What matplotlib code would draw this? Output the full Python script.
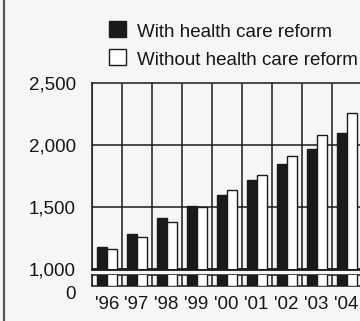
import matplotlib
matplotlib.use("Agg")
import matplotlib.pyplot as plt
from matplotlib.patches import Rectangle
from matplotlib.lines import Line2D
import matplotlib.transforms as mtransforms
import numpy as np

years = ["'96", "'97", "'98", "'99", "'00", "'01", "'02", "'03", "'04"]
with_reform = [1170, 1280, 1410, 1505, 1595, 1715, 1845, 1965, 2095]
without_reform = [1160, 1255, 1375, 1500, 1630, 1757, 1910, 2075, 2255]
ytick_vals = [1000, 1500, 2000, 2500]
ytick_labels = ["1,000", "1,500", "2,000", "2,500"]
legend_labels = ["With health care reform", "Without health care reform"]

W, H = 360, 321
bg = "#f6f6f6"
ink = "#1a1a1a"
txt = "#161616"
fig = plt.figure(figsize=(W / 100, H / 100), dpi=100, facecolor=bg)

def fx(px):
    return px / W

def fy(py):
    return 1 - py / H

left_px, right_px = 91.7, 361.5
top_px, base_px = 82.7, 268.5
strip_top, strip_bot = 275.0, 286.0

ax = fig.add_axes([fx(left_px), fy(base_px), fx(right_px - left_px), (base_px - top_px) / H])
ax2 = fig.add_axes([fx(left_px), fy(strip_bot), fx(right_px - left_px), (strip_bot - strip_top) / H])

x = np.arange(len(years))
bw = 0.33
for a in (ax, ax2):
    a.set_facecolor(bg)
    a.bar(x + 0.35, with_reform, width=bw, color=ink, edgecolor=ink, linewidth=1.0, zorder=3, bottom=0)
    a.bar(x + 0.68, without_reform, width=bw, color="white", edgecolor=ink, linewidth=1.0, zorder=3, bottom=0)
    a.set_xlim(0, len(years))
    for i in range(len(years) + 1):
        a.axvline(i, color=ink, linewidth=1.1, zorder=2)
    for s in a.spines.values():
        s.set_color(ink)
        s.set_linewidth(1.1)

ax.set_ylim(1000, 2500)
ax.spines["bottom"].set_linewidth(2.0)
for v in ytick_vals[1:-1]:
    ax.axhline(v, color=ink, linewidth=1.1, zorder=2)
ax.set_yticks(ytick_vals)
ax.set_yticklabels(ytick_labels, fontsize=13.5, family=["Liberation Sans", "DejaVu Sans"], color=txt)
ax.tick_params(axis="y", length=0, pad=11.5)
ax.set_xticks([])

ax2.set_ylim(0, 100)
ax2.set_yticks([0])
ax2.set_yticklabels(["0"], fontsize=13.5, family=["Liberation Sans", "DejaVu Sans"], color=txt)
ax2.tick_params(axis="y", length=0, pad=11.5)
off = mtransforms.ScaledTranslation(0, -5 / 72, fig.dpi_scale_trans)
for lab in ax2.get_yticklabels():
    lab.set_transform(lab.get_transform() + off)
ax2.set_xticks(x + 0.5)
ax2.set_xticklabels(years, fontsize=13.5, family=["Liberation Sans Narrow", "Liberation Sans"], color=txt)
ax2.tick_params(axis="x", length=0, pad=7)

# legend
fig.patches.append(Rectangle((fx(109), fy(37)), fx(17), 16 / H, transform=fig.transFigure,
                             facecolor=ink, edgecolor=ink, linewidth=1.0))
fig.patches.append(Rectangle((fx(109), fy(65)), fx(17), 16 / H, transform=fig.transFigure,
                             facecolor="white", edgecolor=ink, linewidth=1.0))
fig.text(fx(137), fy(37), legend_labels[0], fontsize=13.5, family=["Liberation Sans", "DejaVu Sans"],
         va="baseline", ha="left", color=txt)
fig.text(fx(137), fy(65), legend_labels[1], fontsize=13.5, family=["Liberation Sans", "DejaVu Sans"],
         va="baseline", ha="left", color=txt)

# left frame line
fig.add_artist(Line2D([fx(3.5), fx(3.5)], [0, 1], transform=fig.transFigure, color="#555555", linewidth=1.6))

fig.savefig("out.png", dpi=100, facecolor=bg)
